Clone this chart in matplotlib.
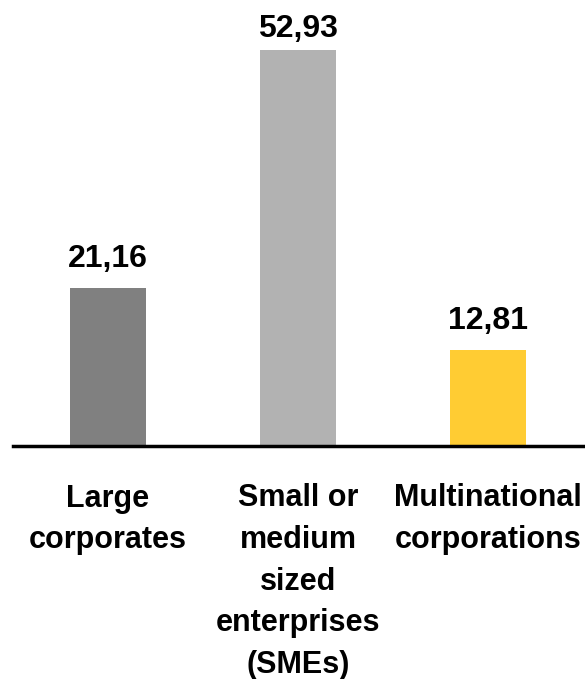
import matplotlib
matplotlib.use("Agg")
import matplotlib.pyplot as plt
from matplotlib.transforms import offset_copy

categories = ["Large\ncorporates",
              "Small or\nmedium\nsized\nenterprises\n(SMEs)",
              "Multinational\ncorporations"]
values = [21.16, 52.93, 12.81]
value_labels = ["21,16", "52,93", "12,81"]
colors = ["#808080", "#B2B2B2", "#FFCC33"]

plt.rcParams["font.family"] = ["Liberation Sans", "DejaVu Sans"]

W, H = 585, 679
fig = plt.figure(figsize=(W / 100, H / 100), dpi=100)
ax = fig.add_axes([13 / W, (H - 446) / H, 572 / W, 446 / H])

x = list(range(len(values)))
ax.bar(x, values, width=0.4, color=colors, zorder=2)
ax.set_xlim(-0.5, 2.51)
ax.set_ylim(0, 59.6)

# value labels sit a fixed gap above each bar, but never above the top margin
px_per_unit = 446 / 59.6
gap_units = 21 / px_per_unit
cap_units = 59.6 - 37 / px_per_unit
for xi, v, lab in zip(x, values, value_labels):
    ax.text(xi, min(v + gap_units, cap_units), lab, ha="center",
            va="baseline", fontsize=23, fontweight="bold", clip_on=False)

ax.set_xticks(x)
ax.set_xticklabels(categories, fontsize=22, fontweight="bold", linespacing=1.5)
ax.tick_params(axis="x", length=0, pad=27)
ax.set_yticks([])
for side in ["left", "right", "top"]:
    ax.spines[side].set_visible(False)
ax.spines["bottom"].set_linewidth(2.5)
ax.spines["bottom"].set_color("black")
ax.set_facecolor("none")

fig.savefig("out.png", dpi=100)
